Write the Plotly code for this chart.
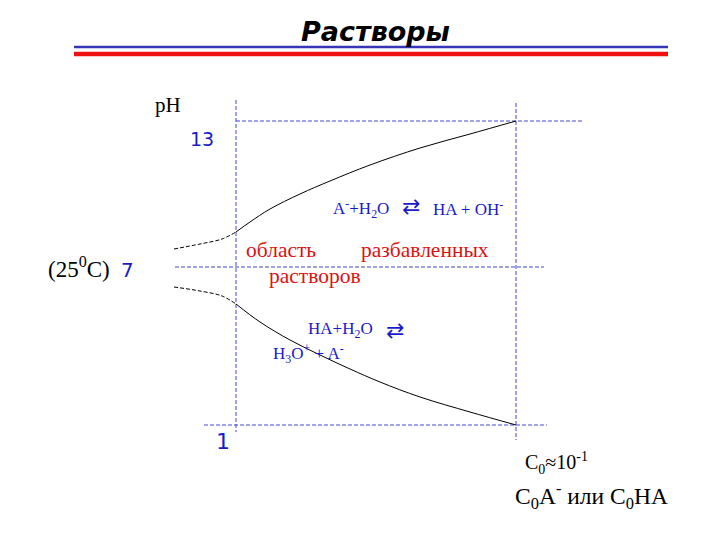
import plotly.graph_objects as go

# Schematic coordinates (chart frame: x 0..720, y 0..540 downward)
upper_dash_x = [174, 200, 222, 236]
upper_dash_y = [249, 244, 239, 232]
upper_curve_x = [236, 250, 270, 300, 330, 370, 420, 470, 516]
upper_curve_y = [232, 222, 209, 194, 181, 165, 148, 134, 121]
lower_dash_x = [174, 200, 222, 236]
lower_dash_y = [287, 291, 296, 304]
lower_curve_x = [236, 260, 290, 320, 350, 380, 420, 470, 516]
lower_curve_y = [304, 322, 340, 355, 369, 382, 397, 412, 425]

# guide lines: (xs, ys)
guides = [
    ([236, 236], [100, 432]),
    ([516, 516], [103, 440]),
    ([236, 583], [121, 121]),
    ([175, 544], [267, 267]),
    ([204, 547], [425, 425]),
]
header_blue = ([74, 668], [47, 47])
header_red = ([74, 668], [54, 54])

ph_ticks = ["13", "7", "1"]

fig = go.Figure()

fig.add_trace(go.Scatter(x=header_blue[0], y=header_blue[1], mode="lines",
                         line=dict(color="#3535b5", width=2.5), hoverinfo="skip"))
fig.add_trace(go.Scatter(x=header_red[0], y=header_red[1], mode="lines",
                         line=dict(color="#f01010", width=4.5), hoverinfo="skip"))
for gx, gy in guides:
    fig.add_trace(go.Scatter(x=gx, y=gy, mode="lines",
                             line=dict(color="#4646d0", width=1, dash="4px,2px"),
                             hoverinfo="skip"))

fig.add_trace(go.Scatter(x=upper_dash_x, y=upper_dash_y, mode="lines",
                         line=dict(color="black", width=1, dash="4px,2px", shape="spline"),
                         hoverinfo="skip"))
fig.add_trace(go.Scatter(x=lower_dash_x, y=lower_dash_y, mode="lines",
                         line=dict(color="black", width=1, dash="4px,2px", shape="spline"),
                         hoverinfo="skip"))
fig.add_trace(go.Scatter(x=upper_curve_x, y=upper_curve_y, mode="lines",
                         line=dict(color="black", width=1, shape="spline"), hoverinfo="skip"))
fig.add_trace(go.Scatter(x=lower_curve_x, y=lower_curve_y, mode="lines",
                         line=dict(color="black", width=1, shape="spline"), hoverinfo="skip"))

serif = "Liberation Serif"
blue = "#1a1acc"
red = "#dd1111"


def txt(x, y, s, size, color="black", family=serif, anchor="left", **kw):
    fig.add_annotation(x=x, y=y, text=s, showarrow=False, xanchor=anchor, yanchor="middle",
                       font=dict(size=size, color=color, family=family, **kw))


txt(375, 31, "Растворы", 27, family="DejaVu Sans", anchor="center",
    weight="bold", style="italic")
txt(153, 105, "pH", 21)
txt(188, 139, ph_ticks[0], 19, color=blue, family="DejaVu Sans")
txt(119, 270, ph_ticks[1], 20, color=blue, family="DejaVu Sans")
txt(214, 441, ph_ticks[2], 22, color=blue, family="DejaVu Sans")
txt(46, 267, "(25<sup>0</sup>C)", 23)
txt(244, 250, "область", 21.5, color=red)
txt(359, 250, "разбавленных", 21.5, color=red)
txt(267, 276, "растворов", 21.5, color=red)
txt(331, 208, "A<sup>-</sup>+H<sub>2</sub>O", 17, color=blue)
txt(400, 206, "⇄", 22, color=blue, family="DejaVu Sans")
txt(431, 208, "HA + OH<sup>-</sup>", 17, color=blue)
txt(306, 330, "HA+H<sub>2</sub>O", 17, color=blue)
txt(384, 330, "⇄", 22, color=blue, family="DejaVu Sans")
txt(271, 353, "H<sub>3</sub>O<sup>+</sup> + A<sup>-</sup>", 17, color=blue)
txt(523, 463, "C<sub>0</sub>≈10<sup>-1</sup>", 20)
txt(513, 496, "C<sub>0</sub>A<sup>-</sup> или C<sub>0</sub>HA", 23.5)

# page body has an 8px offset; shift ranges so chart coordinates map to window pixels
fig.update_layout(
    width=720, height=540, margin=dict(l=0, r=0, t=0, b=0),
    paper_bgcolor="white", plot_bgcolor="white", showlegend=False,
    xaxis=dict(range=[8, 728], visible=False, fixedrange=True),
    yaxis=dict(range=[548, 8], visible=False, fixedrange=True),
)
fig.write_html("out.html")
